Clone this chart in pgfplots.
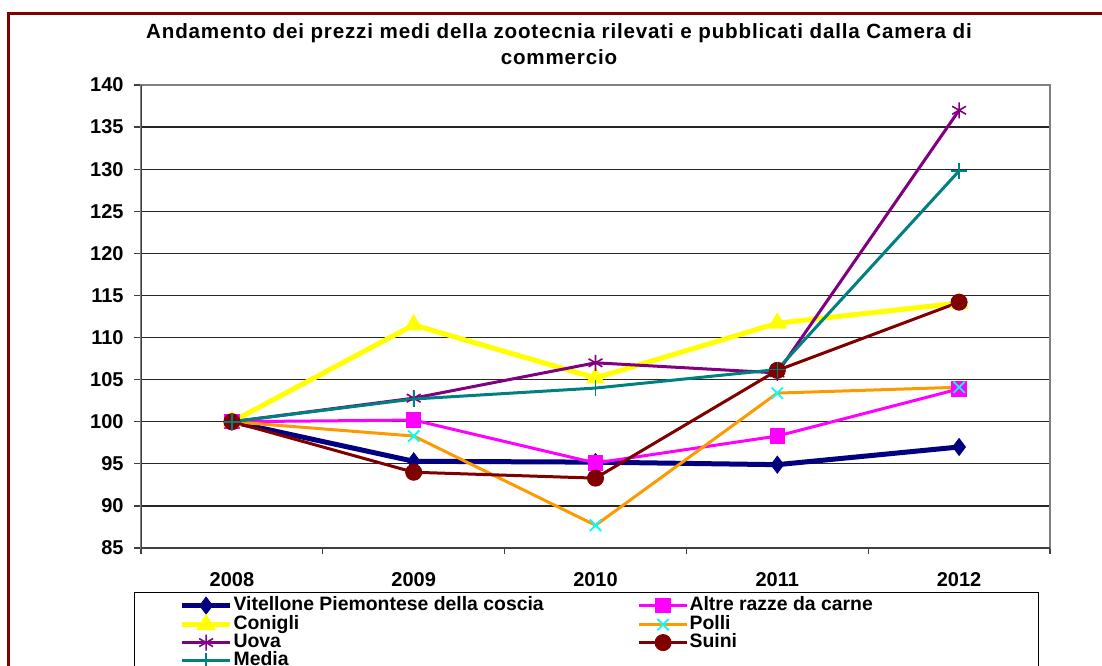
\documentclass[border=0pt]{standalone}
\usepackage{pgfplots}
\pgfplotsset{compat=1.18}
\usepackage{fontspec}
\setmainfont{Liberation Sans}
\newfontfamily\titlefont[LetterSpace=4]{Liberation Sans}
\definecolor{frameRed}{RGB}{128,0,0}
\definecolor{cNavy}{RGB}{0,0,128}
\definecolor{cMag}{RGB}{255,0,255}
\definecolor{cYel}{RGB}{255,255,0}
\definecolor{cOra}{RGB}{255,153,0}
\definecolor{cCya}{RGB}{0,255,255}
\definecolor{cPur}{RGB}{128,0,128}
\definecolor{cDRed}{RGB}{128,0,0}
\definecolor{cTeal}{RGB}{0,128,128}
\begin{document}
\begin{tikzpicture}
\useasboundingbox (0,0) rectangle (551pt,332.5pt);
\draw[frameRed, line width=1.5pt] (4.35pt,-20pt) -- (4.35pt,325.85pt) -- (570pt,325.85pt);
\node[anchor=base, font=\titlefont\bfseries\fontsize{10.3}{12}\selectfont] at (279.5pt,313pt) {Andamento dei prezzi medi della zootecnia rilevati e pubblicati dalla Camera di};
\node[anchor=base, font=\titlefont\bfseries\fontsize{10.3}{12}\selectfont] at (279.5pt,300pt) {commercio};
\begin{axis}[
  at={(70.5pt,58.5pt)}, anchor=south west,
  scale only axis, width=454.5pt, height=231.5pt,
  xmin=-0.5, xmax=4.5, ymin=85, ymax=140,
  xtick={0,1,2,3,4}, xticklabels={2008,2009,2010,2011,2012},
  minor xtick={-0.5,0.5,1.5,2.5,3.5,4.5},
  ytick={85,90,...,140},
  tick pos=left, tick align=outside,
  major tick length=3.5pt, minor tick length=3pt,
  major x tick style={draw=none},
  minor x tick style={black!75, line width=0.6pt},
  major y tick style={black!75, line width=0.6pt},
  ymajorgrids, major grid style={black!85, line width=0.6pt},
  axis line style={gray, line width=0.7pt},
  /pgf/number format/assume math mode=true,
  ticklabel style={font=\bfseries\fontsize{10}{12}\selectfont},
  yticklabel style={inner sep=0pt, xshift=-5pt},
  xticklabel style={inner sep=0pt, yshift=-8.5pt},
  legend columns=2,
  legend style={at={(-0.0077,-0.095)}, anchor=north west, draw=black, line width=0.6pt,
    inner xsep=22.5pt, inner ysep=2pt, row sep=0pt,
    font=\bfseries\fontsize{9.7}{11}\selectfont,
    nodes={inner sep=0pt, text height=7pt, text depth=2pt}},
  legend cell align=left,
  legend image code/.code={\draw[mark repeat=2,mark phase=2,#1] plot coordinates {(0pt,0pt)(12pt,0pt)(24pt,0pt)};},
]
\addplot[cNavy, line width=2.5pt, mark=diamond*, mark size=4.2pt, mark options={solid, line width=0.5pt}] coordinates {(0,100) (1,95.3) (2,95.2) (3,94.9) (4,97.0)};
\addlegendentry{\hspace{0.5pt}\makebox[202pt][l]{Vitellone Piemontese della coscia}}
\addplot[cMag, line width=1.5pt, mark=square*, mark size=3.6pt, mark options={solid, line width=0.5pt}] coordinates {(0,100) (1,100.2) (2,95.1) (3,98.3) (4,103.9)};
\addlegendentry{\hspace{0.5pt}\makebox[152pt][l]{Altre razze da carne}}
\addplot[cYel, line width=2.5pt, mark=triangle*, mark size=5pt, mark options={solid, line width=0.5pt}] coordinates {(0,100) (1,111.5) (2,105.2) (3,111.7) (4,114.1)};
\addlegendentry{\hspace{0.5pt}\makebox[202pt][l]{Conigli}}
\addplot[cOra, line width=1.5pt, mark=x, mark size=4pt, mark options={cCya, solid, line width=0.9pt}] coordinates {(0,100) (1,98.3) (2,87.7) (3,103.4) (4,104.1)};
\addlegendentry{\hspace{0.5pt}\makebox[152pt][l]{Polli}}
\addplot[cPur, line width=1.5pt, mark=asterisk, mark size=4pt, mark options={solid, line width=0.8pt}] coordinates {(0,100) (1,102.8) (2,107.0) (3,105.8) (4,137.0)};
\addlegendentry{\hspace{0.5pt}\makebox[202pt][l]{Uova}}
\addplot[cDRed, line width=1.5pt, mark=*, mark size=4pt, mark options={solid, line width=0.5pt}] coordinates {(0,100) (1,94.0) (2,93.3) (3,106.1) (4,114.2)};
\addlegendentry{\hspace{0.5pt}\makebox[152pt][l]{Suini}}
\addplot[cTeal, line width=1.5pt, mark=+, mark size=4pt, mark options={solid, line width=0.8pt}] coordinates {(0,100) (1,102.7) (2,104.0) (3,106.2) (4,129.8)};
\addlegendentry{\hspace{0.5pt}\makebox[202pt][l]{Media}}
\draw[black!75, line width=0.7pt] (rel axis cs:0,1) -- (rel axis cs:0,0) -- (rel axis cs:1,0);
\end{axis}
\end{tikzpicture}
\end{document}
